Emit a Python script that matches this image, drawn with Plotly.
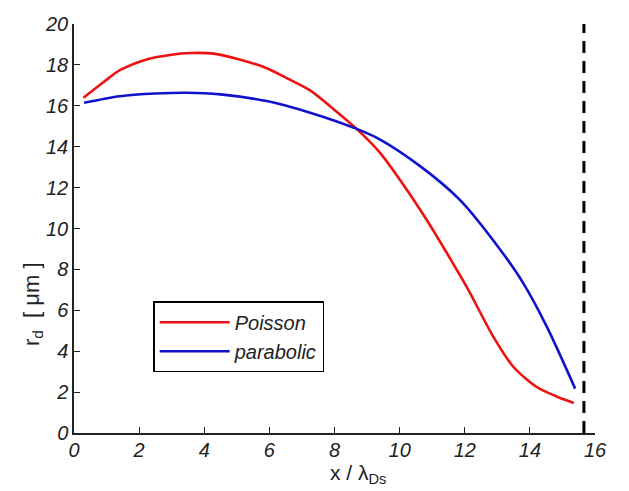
import plotly.graph_objects as go

# Poisson solution
poisson_x = [0.29, 0.9, 1.41, 2.23, 3.0, 3.56, 4.3, 5.0, 5.92, 6.6, 7.25, 8.0, 8.68,
             9.4, 10.22, 10.8, 11.45, 12.11, 12.88, 13.49, 14.21, 14.8, 15.35]
poisson_y = [16.39, 17.15, 17.74, 18.27, 18.5, 18.58, 18.55, 18.3, 17.84, 17.3, 16.75, 15.8, 14.87,
             13.7, 11.9, 10.5, 8.8, 7.0, 4.7, 3.24, 2.25, 1.8, 1.47]

# parabolic approximation
parabolic_x = [0.31, 1.41, 2.5, 3.46, 4.5, 5.92, 7.25, 8.68, 9.4, 10.63, 11.85, 13.05, 13.8, 14.52, 15.39]
parabolic_y = [16.15, 16.47, 16.6, 16.64, 16.56, 16.23, 15.66, 14.87, 14.35, 13.05, 11.4, 9.05, 7.32, 5.2, 2.17]

boundary_x = 15.66
x_ticks = [0, 2, 4, 6, 8, 10, 12, 14, 16]
y_ticks = [0, 2, 4, 6, 8, 10, 12, 14, 16, 18, 20]

FONT = "Liberation Sans, Arial, sans-serif"
AX = "#222222"

fig = go.Figure()
fig.add_trace(go.Scatter(x=poisson_x, y=poisson_y, mode="lines", name="Poisson",
                         line=dict(color="#ee1111", width=2.6, shape="spline", smoothing=0.8)))
fig.add_trace(go.Scatter(x=parabolic_x, y=parabolic_y, mode="lines", name="parabolic",
                         line=dict(color="#1111cc", width=2.6, shape="spline", smoothing=0.8)))
fig.add_trace(go.Scatter(x=[boundary_x, boundary_x], y=[0, 20], mode="lines", showlegend=False,
                         line=dict(color="black", width=3, dash="12px,8px")))

fig.update_layout(
    width=629, height=491,
    margin=dict(l=74, r=34, t=24, b=58, autoexpand=False),
    paper_bgcolor="white", plot_bgcolor="white",
    font=dict(family=FONT, size=20, color=AX),
    showlegend=True,
    legend=dict(x=0.152, y=0.322, xanchor="left", yanchor="top",
                bordercolor="black", borderwidth=1.5, bgcolor="white",
                font=dict(family=FONT, size=20, color=AX, style="italic"),
                itemwidth=70, tracegroupgap=4),
    xaxis=dict(range=[0, 16], tickvals=x_ticks, ticktext=[str(v) for v in x_ticks],
               showline=True, linecolor=AX, linewidth=1.5, ticks="inside", ticklen=6,
               tickwidth=1.3, tickcolor=AX, showgrid=False, zeroline=False, automargin=False,
               ticklabelstandoff=-2,
               tickfont=dict(family=FONT, size=20, color=AX, style="italic")),
    yaxis=dict(range=[0, 20], tickvals=y_ticks, ticktext=[str(v) for v in y_ticks],
               showline=True, linecolor=AX, linewidth=1.5, ticks="inside", ticklen=6,
               tickwidth=1.3, tickcolor=AX, showgrid=False, zeroline=False, automargin=False,
               tickfont=dict(family=FONT, size=20, color=AX, style="italic")),
    annotations=[
        dict(text="r<sub>d</sub>  [ μm ]", xref="paper", yref="paper", x=-0.079, y=0.315,
             xanchor="center", yanchor="middle", textangle=-90, showarrow=False,
             font=dict(family=FONT, size=22, color=AX)),
        dict(text="x / λ<sub>Ds</sub>", xref="paper", yref="paper", x=0.545, y=-0.1,
             xanchor="center", yanchor="middle", showarrow=False,
             font=dict(family=FONT, size=21, color=AX)),
    ],
)

fig.write_html("out.html", config={"displayModeBar": False},
               post_script="document.body.style.margin='0';document.body.style.overflow='hidden';")
